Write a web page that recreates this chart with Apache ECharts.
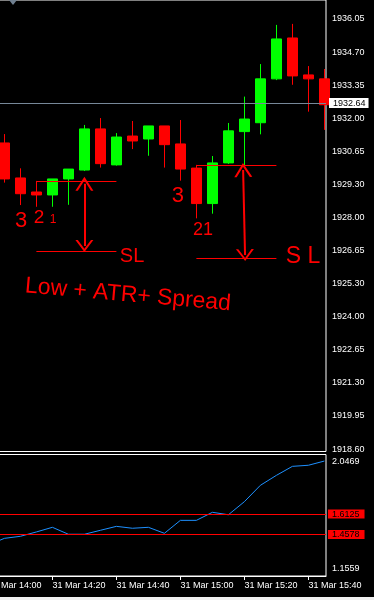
<!DOCTYPE html>
<html>
<head>
<meta charset="utf-8">
<script src="https://cdn.jsdelivr.net/npm/echarts@6/dist/echarts.min.js"></script>
<style>
  html, body { margin: 0; padding: 0; background: #000; }
  #chart { width: 374px; height: 600px; }
</style>
</head>
<body>
<div id="chart"></div>
<script>
// M5 bars, minutes after 31 Mar 14:00
var barMinutes = [5, 10, 15, 20, 25, 30, 35, 40, 45, 50, 55, 60, 65, 70, 75, 80, 85, 90, 95, 100, 105];
var opens  = [1931.02, 1929.60, 1929.03, 1928.91, 1929.56, 1929.92, 1931.59, 1930.13, 1931.30, 1931.18, 1931.71,
              1930.98, 1930.00, 1928.56, 1930.21, 1931.48, 1931.84, 1933.62, 1935.28, 1933.78, 1933.62];
var closes = [1929.56, 1928.96, 1928.91, 1929.56, 1929.96, 1931.59, 1930.18, 1931.26, 1931.10, 1931.71, 1930.95,
              1929.96, 1928.56, 1930.21, 1931.51, 1931.99, 1933.62, 1935.24, 1933.74, 1933.62, 1932.57];
var lows   = [1929.41, 1928.50, 1928.43, 1928.43, 1928.51, 1929.88, 1930.02, 1930.10, 1930.77, 1930.50, 1930.02,
              1929.49, 1927.96, 1928.15, 1930.17, 1930.10, 1931.37, 1933.57, 1933.38, 1932.29, 1931.55];
var highs  = [1931.38, 1929.99, 1929.48, 1929.56, 1929.96, 1931.75, 1932.03, 1931.42, 1931.91, 1931.71, 1931.71,
              1931.95, 1930.13, 1930.49, 1931.83, 1932.90, 1934.22, 1935.81, 1935.85, 1934.14, 1934.02];
var bidPrice = 1932.64;

// ATR sub window (first point is the 14:00 bar left of the view)
var atrMinutes = [0, 5, 10, 15, 20, 25, 30, 35, 40, 45, 50, 55, 60, 65, 70, 75, 80, 85, 90, 95, 100, 105];
var atrValues  = [1.383, 1.432, 1.447, 1.479, 1.513, 1.462, 1.462, 1.491, 1.520, 1.506, 1.513,
                  1.469, 1.564, 1.564, 1.623, 1.605, 1.701, 1.821, 1.894, 1.960, 1.968, 1.999];
var atrLevels = [1.6125, 1.4578];
var atrMin = 1.1559, atrMax = 2.0469;

// axis texts
var priceTickLabels = ['1936.05', '1934.70', '1933.35', '1932.00', '1930.65', '1929.30', '1928.00',
                       '1926.65', '1925.30', '1924.00', '1922.65', '1921.30', '1919.95', '1918.60'];
var timeTickMinutes = [0, 20, 40, 60, 80, 100];
var timeTickLabels = ['31 Mar 14:00', '31 Mar 14:20', '31 Mar 14:40', '31 Mar 15:00', '31 Mar 15:20', '31 Mar 15:40'];

// hand drawn setup marks (minute, price)
var zoneStart = [15, 65];
var zoneEnd = [40, 90];
var entryLevels = [1929.48, 1930.13];
var stopLevels = [1926.63, 1926.36];
var arrowTop = [[30, 1929.36], [79.6, 1929.92]];
var arrowBottom = [[30, 1926.84], [80.2, 1926.47]];
var notes = [
  { text: '3', at: [10.2, 1927.85], size: 22 },
  { text: '2', at: [15.8, 1927.97], size: 19 },
  { text: '1', at: [20.2, 1927.89], size: 12 },
  { text: '3', at: [59.2, 1928.87], size: 22 },
  { text: '21', at: [67.1, 1927.49], size: 18 },
  { text: 'SL', at: [44.9, 1926.43], size: 20 },
  { text: 'S L', at: [98.3, 1926.39], size: 23 },
  { text: 'Low + ATR+ Spread', at: [43.6, 1924.85], size: 23, rotate: -5 }
];

var FONT = 'Liberation Sans';
var RED = '#ff0000';
var chevron = 'path://M0 12L6 0L12 12L10.4 12L6 3.2L1.6 12Z';

var topTick = +priceTickLabels[0];
var lastTick = +priceTickLabels[priceTickLabels.length - 1];
var tickStep = (topTick - lastTick) / (priceTickLabels.length - 1);
var priceTickValues = priceTickLabels.map(function (l, i) { return topTick - i * tickStep; });

var candles = barMinutes.map(function (m, i) {
  return [m, opens[i], closes[i], lows[i], highs[i]];
});
var atrLine = atrMinutes.map(function (m, i) { return [m, atrValues[i]]; });

var drawLines = [{
  yAxis: bidPrice,
  symbol: 'none',
  lineStyle: { color: '#778899', width: 1, type: 'solid' },
  label: {
    show: true, position: 'end', distance: 3,
    formatter: String(bidPrice),
    backgroundColor: '#fff', color: '#000',
    fontFamily: FONT, fontSize: 9, lineHeight: 10, padding: [0, 3, 0, 4]
  }
}];
zoneStart.forEach(function (s, i) {
  drawLines.push([{ coord: [s, entryLevels[i]] }, { coord: [zoneEnd[i], entryLevels[i]] }]);
  drawLines.push([{ coord: [s, stopLevels[i]] }, { coord: [zoneEnd[i], stopLevels[i]] }]);
  drawLines.push([
    { coord: arrowTop[i], symbol: chevron, symbolSize: [18, 14], lineStyle: { width: 2 } },
    { coord: arrowBottom[i], symbol: chevron, symbolSize: [18, 12] }
  ]);
});

var chart = echarts.init(document.getElementById('chart'));
chart.setOption({
  backgroundColor: '#000',
  animation: false,
  graphic: [
    { type: 'polygon', shape: { points: [[9, 0], [17, 0], [13, 5]] }, style: { fill: '#708090' } },
    { type: 'rect', shape: { x: 0, y: 597, width: 374, height: 3 }, style: { fill: '#f0f0f0' } }
  ],
  grid: [
    { left: -11.6, top: 0, width: 337.6, height: 451.5, outerBoundsMode: 'none', containLabel: false,
      show: true, borderColor: '#fff', borderWidth: 1 },
    { left: -11.6, top: 454.5, width: 337.6, height: 121.5, outerBoundsMode: 'none', containLabel: false,
      show: true, borderColor: '#fff', borderWidth: 1 }
  ],
  xAxis: [
    { gridIndex: 0, type: 'value', min: 0, max: 105.5, show: false },
    {
      gridIndex: 1, type: 'value', min: 0, max: 105.5,
      splitLine: { show: false },
      axisLine: { lineStyle: { color: '#fff' } },
      axisTick: { customValues: timeTickMinutes, length: 4, lineStyle: { color: '#fff' } },
      axisLabel: {
        customValues: timeTickMinutes, align: 'left', margin: 5,
        color: '#fff', fontFamily: FONT, fontSize: 9,
        formatter: function (v) { return timeTickLabels[timeTickMinutes.indexOf(v)]; }
      }
    }
  ],
  yAxis: [
    {
      gridIndex: 0, type: 'value', position: 'right',
      min: 1918.50, max: 1936.82,
      splitLine: { show: false },
      axisLine: { show: true, lineStyle: { color: '#fff' } },
      axisTick: { show: true, customValues: priceTickValues, length: 3, lineStyle: { color: '#fff' } },
      axisLabel: {
        customValues: priceTickValues, margin: 6,
        color: '#fff', fontFamily: FONT, fontSize: 9,
        formatter: function (v) { return priceTickLabels[Math.round((topTick - v) / tickStep)]; }
      }
    },
    {
      gridIndex: 1, type: 'value', position: 'right',
      min: atrMin, max: atrMax,
      splitLine: { show: false },
      axisLine: { show: true, lineStyle: { color: '#fff' } },
      axisTick: { show: false },
      axisLabel: {
        customValues: [atrMin, atrMax], margin: 6, padding: [3, 0, 3, 0],
        verticalAlignMinLabel: 'bottom', verticalAlignMaxLabel: 'top',
        color: '#fff', fontFamily: FONT, fontSize: 9,
        formatter: function (v) { return v.toFixed(4); }
      }
    }
  ],
  series: [
    {
      type: 'candlestick',
      xAxisIndex: 0, yAxisIndex: 0,
      barWidth: 11,
      clip: true,
      data: candles,
      itemStyle: {
        color: '#00ff00', color0: '#ff0000',
        borderColor: '#00ff00', borderColor0: '#ff0000', borderWidth: 1
      },
      markLine: {
        silent: true,
        symbol: 'none',
        lineStyle: { color: RED, width: 1, type: 'solid' },
        label: { show: false },
        data: drawLines
      },
      markPoint: {
        silent: true,
        symbol: 'circle', symbolSize: 1,
        itemStyle: { color: 'transparent' },
        data: notes.map(function (n) {
          return {
            coord: n.at,
            label: {
              show: true, position: 'inside', formatter: n.text,
              color: RED, fontFamily: FONT, fontSize: n.size, rotate: n.rotate || 0
            }
          };
        })
      }
    },
    {
      type: 'line',
      xAxisIndex: 1, yAxisIndex: 1,
      data: atrLine,
      symbol: 'none',
      lineStyle: { color: '#1e90ff', width: 1 },
      markLine: {
        silent: true,
        symbol: 'none',
        lineStyle: { color: RED, width: 1, type: 'solid' },
        data: atrLevels.map(function (v) {
          return {
            yAxis: v,
            label: {
              show: true, position: 'end', distance: 2,
              formatter: v.toFixed(4),
              backgroundColor: RED, color: '#000',
              fontFamily: FONT, fontSize: 9, lineHeight: 9, padding: [0, 5, 0, 4]
            }
          };
        })
      }
    }
  ]
});
</script>
</body>
</html>
